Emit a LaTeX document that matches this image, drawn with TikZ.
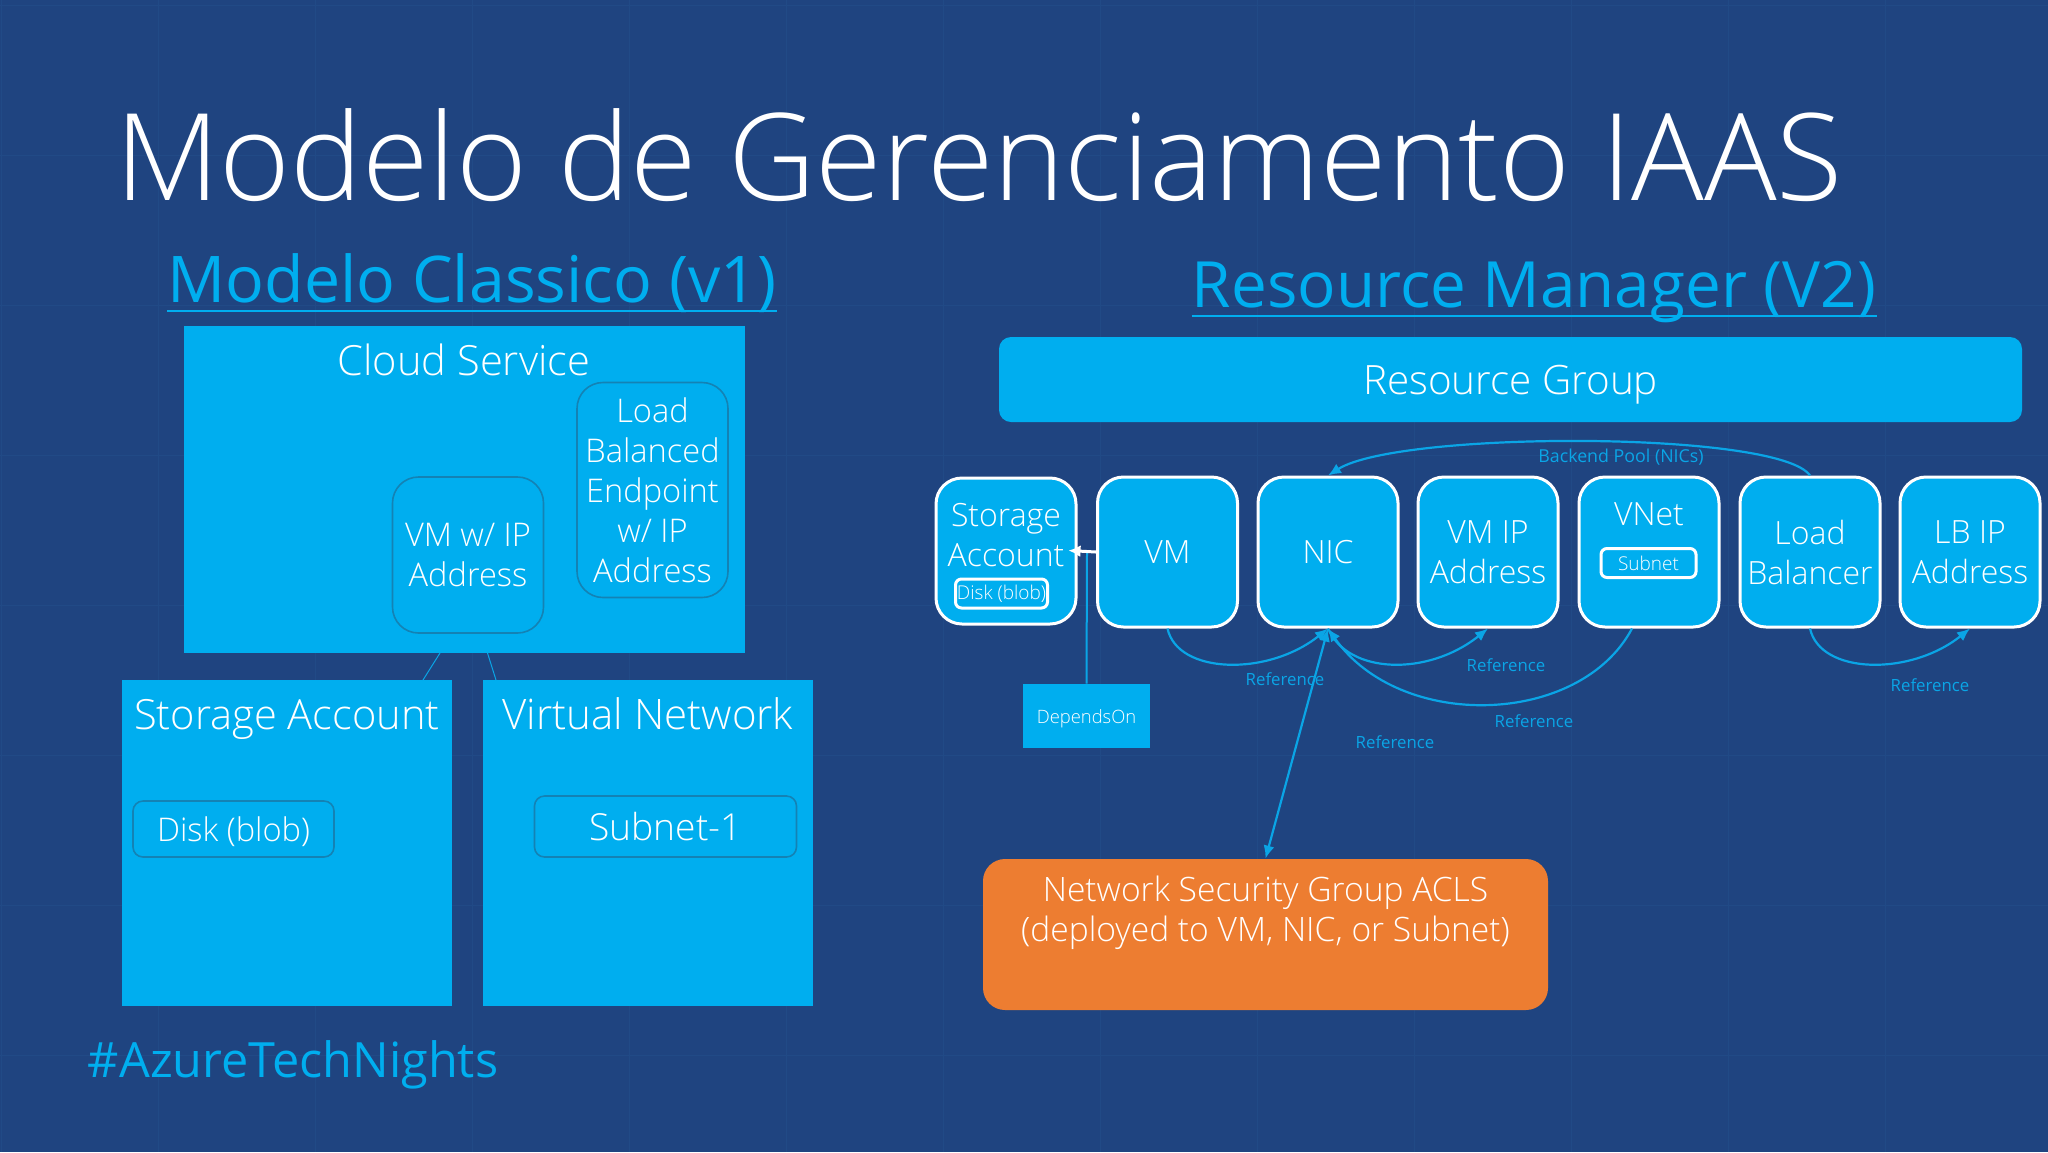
\documentclass[tikz,border=0pt]{standalone}
\usepackage{fontspec}
\setmainfont{Open Sans Light}
\newfontfamily\regfont{Open Sans}
\usetikzlibrary{positioning, calc, arrows.meta}
\definecolor{slidebg}{HTML}{1F4480}
\definecolor{slidegrid}{HTML}{214A86}
\definecolor{azure}{HTML}{00AEEF}
\definecolor{azureline}{HTML}{0AA5E6}
\definecolor{azuredark}{HTML}{1482B4}
\definecolor{nsgorange}{HTML}{ED7D31}
\tikzset{
  flatbox/.style={fill=azure,minimum width=#1,inner sep=0pt,text=white},
  innerbox/.style={draw=azuredark,line width=.8pt,rounded corners=13pt,inner sep=0pt,text=white,align=center,font=\fontsize{16.3}{20}\selectfont},
  resbox/.style={draw=white,line width=1.5pt,fill=azure,rounded corners=13pt,minimum width=70pt,minimum height=75pt,inner sep=0pt,text=white,align=center,font=\fontsize{16}{20}\selectfont},
  tagbox/.style={draw=white,line width=1.5pt,rounded corners=3pt,inner sep=0pt,text=white},
  reflabel/.style={text=azureline,font=\regfont\fontsize{8.4}{10}\selectfont,inner sep=0pt},
  refline/.style={azureline,line width=1.1pt,-{Latex[length=6.5pt,width=5.5pt]}},
}
\begin{document}
\begin{tikzpicture}[x=.5pt,y=-.5pt]
    \useasboundingbox (0,0) rectangle (2048,1152);
    \fill[slidebg] (0,0) rectangle (2048,1152);
    % faint grid of the slide
    \foreach \x in {1,158,...,2040} {
      \draw[slidegrid,line width=.5pt] (\x,0) -- (\x,1152);
    }
    \foreach \y in {5,155,...,1100} {
      \draw[slidegrid,line width=.5pt] (0,\y) -- (2048,\y);
    }

    \node[text=white,inner sep=0pt,anchor=base,font=\fontsize{60.5}{60}\selectfont] (title) at (979,200) {Modelo de Gerenciamento IAAS};
    \node[text=azure,inner sep=0pt,anchor=base,font=\regfont\fontsize{32.2}{32}\selectfont] (subv1) at (472,302) {Modelo Classico (v1)};
    \node[text=azure,inner sep=0pt,anchor=base,font=\regfont\fontsize{31.9}{32}\selectfont] (subv2) at (1534,307) {Resource Manager (V2)};
    \draw[azure,line width=1.2pt] ([yshift=-4.5pt]subv1.base west) -- ([yshift=-4.5pt]subv1.base east);
    \draw[azure,line width=1.2pt] ([yshift=-4.5pt]subv2.base west) -- ([yshift=-4.5pt]subv2.base east);

    % classic model
    \node[flatbox=280.5pt,minimum height=163.5pt] (cloud) at (464.5,489.5) {};
    \node[text=white,inner sep=0pt,font=\fontsize{20.8}{24}\selectfont] (cloudtxt) at (464,360) {Cloud Service};
    \node[innerbox,minimum width=75.5pt,minimum height=78pt] (vmip) at (468,555) {VM w/ IP\\Address};
    \node[innerbox,minimum width=75.5pt,minimum height=107.5pt] (lbend) at (652.5,490) {Load\\Balanced\\Endpoint\\w/ IP\\Address};
    \node[flatbox=165pt,minimum height=163pt] (storage) at (287,843) {};
    \node[flatbox=165pt,minimum height=163pt] (vnetbox) at (648,843) {};
    \node[text=white,inner sep=0pt,text depth=0pt,font=\fontsize{20.8}{24}\selectfont] (storagetxt) at (287,714) {Storage Account};
    \node[text=white,inner sep=0pt,font=\fontsize{21}{24}\selectfont] (vnettxt) at (648,714) {Virtual Network};
    \node[innerbox,minimum width=100.5pt,minimum height=28pt,rounded corners=5pt,text depth=0pt] (disk) at (233.5,829) {Disk (blob)};
    \node[innerbox,minimum width=131pt,minimum height=30.5pt,rounded corners=5pt,font=\fontsize{18.6}{20}\selectfont] (subnetone) at (665.5,826.5) {Subnet-1};
    \coordinate (cloudl) at (440,653);
    \coordinate (cloudr) at (487.5,653);
    \coordinate (storagel) at (423,680);
    \coordinate (vnetl) at (496,680);
    \draw[azureline,line width=.5pt] (cloudl) -- (storagel);
    \draw[azureline,line width=.5pt] (cloudr) -- (vnetl);

    \node[text=azure,inner sep=0pt,anchor=base,font=\regfont\fontsize{24.3}{24}\selectfont] (hashtag) at (293,1077) {\#AzureTechNights};

    % resource manager model
    \node[fill=azure,rounded corners=6pt,minimum width=511.5pt,minimum height=42.5pt,inner sep=0pt,text=white,text depth=0pt,font=\fontsize{20.2}{24}\selectfont] (group) at (1510.5,379.5) {Resource Group};

    \node[resbox,minimum height=73pt] (sa) at (1006,551) {Storage\\Account\\[-4pt]};
    \node[resbox] (vm) at (1167.5,552) {VM};
    \node[resbox] (nic) at (1328,552) {NIC};
    \node[resbox] (vmaddr) at (1488,552) {VM IP\\Address};
    \node[resbox] (vnet) at (1649,552) {VNet\\[18pt]};
    \node[resbox] (lb) at (1810,552) {Load\\Balancer};
    \node[resbox] (lbaddr) at (1970,552) {LB IP\\Address};
    \node[tagbox,minimum width=46pt,minimum height=14.5pt,font=\fontsize{9.5}{10}\selectfont] (sadisk) at (1001.5,593.5) {Disk (blob)};
    \node[tagbox,minimum width=47.5pt,minimum height=14.5pt,font=\fontsize{9.5}{10}\selectfont] (subnet) at (1648.5,563) {Subnet};

    \node[fill=azure,minimum width=63.5pt,minimum height=32pt,inner sep=0pt,text=white,text depth=0pt,font=\fontsize{9.2}{12}\selectfont] (depends) at (1086.5,716) {DependsOn};
    \node[fill=nsgorange,rounded corners=11pt,minimum width=282.5pt,minimum height=75.5pt,inner sep=0pt,text=white,align=center,font=\fontsize{16.8}{20}\selectfont] (nsg) at (1265.5,934.5) {Network Security Group ACLS\\(deployed to VM, NIC, or Subnet)\\[6pt]};

    \coordinate (vmsa) at (1087,551);
    \draw[azureline,line width=1pt] (depends.north) -- (vmsa);
    \draw[white,line width=1.5pt,-{Latex[length=6pt,width=6pt]},shorten >=-4.5pt] (vm.west) -- (sa.east);

    \draw[refline] (vm.south) .. controls +(10,46) and +(-60,48) .. (nic.south);
    \draw[refline] (nic.south) .. controls +(20,46) and +(-60,48) .. (vmaddr.south);
    \draw[refline] ([xshift=-8.5pt]vnet.south) .. controls +(-52,98) and +(72,103) .. (nic.south);
    \draw[refline] (lb.south) .. controls +(10,46) and +(-60,48) .. (lbaddr.south);
    \draw[refline] (lb.north) .. controls +(-31,-45) and +(71,-45) .. (nic.north);
    \draw[azureline,line width=1.1pt,{Latex[length=6.5pt,width=5.5pt]}-{Latex[length=6.5pt,width=5.5pt]}] (nic.south) -- (nsg.north);

    \node[reflabel] (refa) at (1285,679) {Reference};
    \node[reflabel] (refb) at (1506,665) {Reference};
    \node[reflabel] (refc) at (1534,721) {Reference};
    \node[reflabel] (refd) at (1395,742) {Reference};
    \node[reflabel] (refe) at (1930,685) {Reference};
    \node[reflabel,font=\regfont\fontsize{8.9}{10}\selectfont] (pool) at (1621,457) {Backend Pool (NICs)};
\end{tikzpicture}
\end{document}
